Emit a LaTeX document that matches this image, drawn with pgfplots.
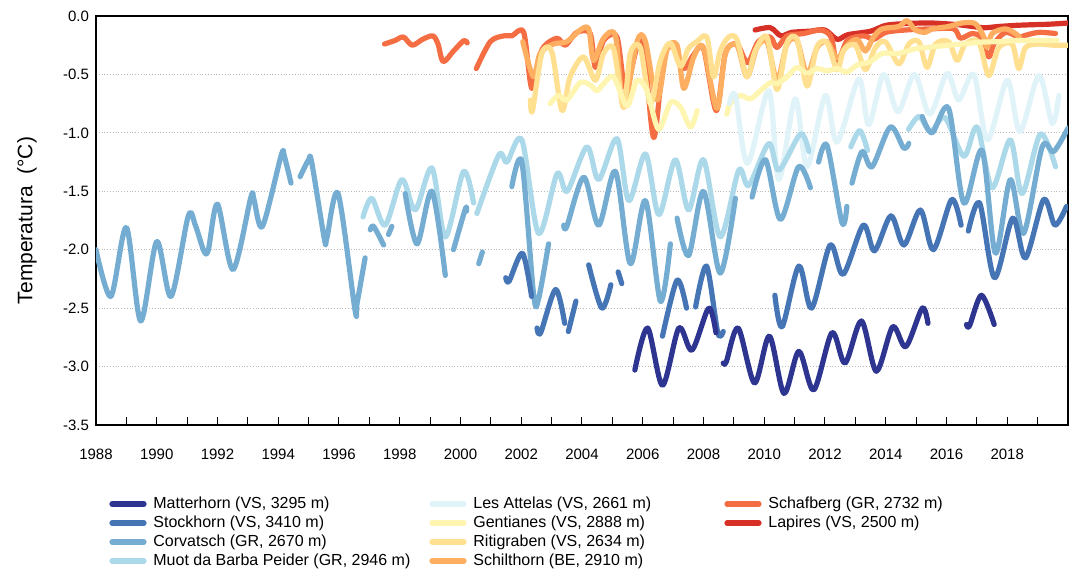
\documentclass[border=0pt]{standalone}
\usepackage{fontspec}
\setmainfont{Liberation Sans}
\usepackage{pgfplots}
\pgfplotsset{compat=1.18}
\definecolor{cMatt}{HTML}{2E3590}
\definecolor{cStock}{HTML}{4575B4}
\definecolor{cCorv}{HTML}{74ADD1}
\definecolor{cMuot}{HTML}{ABD9E9}
\definecolor{cAtt}{HTML}{E0F3F8}
\definecolor{cGent}{HTML}{FEF5B0}
\definecolor{cRiti}{HTML}{FEE090}
\definecolor{cSchil}{HTML}{FDAE61}
\definecolor{cSchaf}{HTML}{F46D43}
\definecolor{cLap}{HTML}{D73027}
\pgfplotsset{
  ser/.style={line width=2.6pt, smooth, tension=0.5, line cap=round, line join=round, no markers, forget plot},
}
\begin{document}
\begin{tikzpicture}
\useasboundingbox (-48pt,-81pt) rectangle (491pt,212.5pt);
\begin{axis}[
  at={(0,0)}, anchor=south west,
  scale only axis, width=486pt, height=204.5pt,
  xmin=1988, xmax=2020, ymin=-3.5, ymax=0,
  xtick={1988,1990,...,2018}, minor xtick={1989,1991,...,2019},
  xtick pos=bottom, ytick pos=left,
  tick align=inside, major tick length=4pt, minor tick length=4pt,
  tick style={black, line width=0.5pt},
  ytick={-3.5,-3,...,0}, ytick style={draw=none},
  ymajorgrids, grid style={densely dotted, gray!55, line width=0.5pt},
  axis line style={black, line width=0.6pt},
  /pgf/number format/assume math mode=true,
  xticklabel style={/pgf/number format/1000 sep={}, font=\fontsize{7.5}{9}\selectfont, yshift=-8.5pt},
  yticklabel style={/pgf/number format/fixed, /pgf/number format/fixed zerofill, /pgf/number format/precision=1, font=\fontsize{7.5}{9}\selectfont},
  ylabel={Temperatura\ \ (°C)},
  every axis y label/.style={at={(axis description cs:-0.071,0.5)}, rotate=90, anchor=center, font=\fontsize{10.5}{12}\selectfont},
]
% Lapires
\addplot[ser, color=cLap] coordinates {(2009.7,-0.12) (2010.2,-0.10) (2010.55,-0.17) (2010.9,-0.14) (2011.5,-0.13) (2012.0,-0.12) (2012.4,-0.20) (2012.75,-0.16) (2013.5,-0.13) (2014.0,-0.08) (2014.65,-0.065) (2015.5,-0.06) (2016.4,-0.075) (2017.2,-0.10) (2017.7,-0.09) (2018.3,-0.08) (2018.8,-0.075) (2019.4,-0.07) (2020,-0.06)};
% Schafberg
\addplot[ser, color=cSchaf] coordinates {(1997.5,-0.24) (1997.84,-0.21) (1998.12,-0.18) (1998.41,-0.25) (1998.75,-0.20) (1999.09,-0.17) (1999.26,-0.24) (1999.43,-0.39) (1999.77,-0.30) (2000.11,-0.21) (2000.22,-0.23)};
\addplot[ser, color=cSchaf] coordinates {(2000.52,-0.45) (2000.98,-0.22) (2001.42,-0.17) (2001.69,-0.17) (2002.08,-0.14) (2002.35,-0.62) (2002.68,-0.29) (2003.17,-0.19) (2003.45,-0.25) (2003.83,-0.14) (2004.27,-0.15) (2004.44,-0.44) (2004.71,-0.21) (2005.15,-0.18) (2005.42,-0.61) (2005.81,-0.27) (2006.03,-0.24) (2006.36,-1.04) (2006.69,-0.35) (2007.02,-0.27) (2007.35,-0.45) (2007.68,-0.33) (2008.0,-0.28) (2008.42,-0.81) (2008.72,-0.32) (2009.1,-0.24) (2009.45,-0.40) (2009.8,-0.22) (2010.2,-0.18) (2010.42,-0.27) (2010.75,-0.17) (2011.3,-0.15) (2011.85,-0.12) (2012.2,-0.18) (2012.4,-0.41) (2012.73,-0.21) (2013.28,-0.17) (2013.6,-0.20) (2014.0,-0.14) (2014.65,-0.12) (2015.5,-0.11) (2016.24,-0.11) (2016.46,-0.19) (2016.84,-0.15) (2017.1,-0.18) (2017.39,-0.35) (2017.56,-0.24) (2017.94,-0.14) (2018.38,-0.18) (2018.6,-0.165) (2019.04,-0.14) (2019.59,-0.15)};
% Schilthorn
\addplot[ser, color=cSchil] coordinates {(2002.05,-0.22) (2002.4,-0.52) (2002.62,-0.32) (2003.06,-0.24) (2003.5,-0.22) (2003.94,-0.12) (2004.22,-0.11) (2004.38,-0.38) (2004.71,-0.19) (2005.1,-0.17) (2005.37,-0.78) (2005.81,-0.22) (2006.08,-0.21) (2006.47,-0.72) (2006.8,-0.29) (2007.13,-0.25) (2007.35,-0.62) (2007.68,-0.35) (2008.0,-0.27) (2008.44,-0.79) (2008.72,-0.32) (2009.1,-0.25) (2009.43,-0.52) (2009.76,-0.27) (2010.09,-0.22) (2010.42,-0.55) (2010.75,-0.24) (2011.08,-0.21) (2011.41,-0.50) (2011.74,-0.27) (2012.07,-0.22) (2012.4,-0.36) (2012.73,-0.25) (2013.06,-0.20) (2013.33,-0.30) (2013.6,-0.18) (2013.88,-0.11) (2014.43,-0.09) (2014.7,-0.04) (2014.98,-0.12) (2015.3,-0.14) (2015.53,-0.11) (2016.07,-0.09) (2016.51,-0.06) (2016.95,-0.066) (2017.23,-0.18) (2017.34,-0.27) (2017.5,-0.15) (2017.94,-0.11) (2018.27,-0.15) (2018.4,-0.18)};
% Ritigraben
\addplot[ser, color=cRiti] coordinates {(2002.3,-0.72) (2002.37,-0.81) (2002.68,-0.32) (2003.01,-0.31) (2003.34,-0.81) (2003.61,-0.52) (2004.05,-0.35) (2004.44,-0.55) (2004.71,-0.32) (2005.04,-0.28) (2005.37,-0.78) (2005.59,-0.32) (2005.92,-0.27) (2006.25,-0.75) (2006.58,-0.38) (2006.91,-0.23) (2007.24,-0.43) (2007.5,-0.28) (2007.78,-0.22) (2008.11,-0.18) (2008.33,-0.52) (2008.55,-0.30) (2008.83,-0.18) (2009.1,-0.20) (2009.43,-0.52) (2009.7,-0.30) (2010.09,-0.18) (2010.42,-0.63) (2010.75,-0.23) (2011.08,-0.20) (2011.41,-0.60) (2011.74,-0.26) (2012.07,-0.23) (2012.4,-0.46) (2012.62,-0.29) (2013.0,-0.25) (2013.33,-0.46) (2013.66,-0.27) (2013.99,-0.22) (2014.43,-0.41) (2014.76,-0.24) (2015.09,-0.22) (2015.36,-0.44) (2015.64,-0.24) (2016.07,-0.22) (2016.35,-0.38) (2016.62,-0.24) (2017.06,-0.22) (2017.39,-0.51) (2017.72,-0.27) (2018.16,-0.24) (2018.38,-0.45) (2018.6,-0.27) (2019.04,-0.24) (2019.5,-0.25) (2020.0,-0.25)};
% Gentianes
\addplot[ser, color=cGent] coordinates {(2002.95,-0.75) (2003.23,-0.68) (2003.5,-0.72) (2003.94,-0.57) (2004.27,-0.59) (2004.49,-0.64) (2004.71,-0.58) (2005.04,-0.52) (2005.48,-0.77) (2005.81,-0.55) (2006.14,-0.64) (2006.52,-0.97) (2006.91,-0.74) (2007.24,-0.78) (2007.57,-0.95) (2007.79,-0.81)};
\addplot[ser, color=cGent] coordinates {(2008.77,-0.84) (2008.88,-0.75) (2009.21,-0.68) (2009.54,-0.71) (2009.87,-0.64) (2010.2,-0.57) (2010.42,-0.58) (2010.75,-0.52) (2011.08,-0.44) (2011.41,-0.49) (2011.74,-0.45) (2012.07,-0.47) (2012.4,-0.45) (2012.73,-0.48) (2013.06,-0.42) (2013.5,-0.39) (2013.88,-0.32) (2014.42,-0.32) (2014.98,-0.28) (2015.53,-0.265) (2016.07,-0.25) (2016.62,-0.237) (2017.17,-0.223) (2017.72,-0.22) (2018.27,-0.21) (2018.82,-0.21) (2019.64,-0.21)};
% Les Attelas
\addplot[ser, color=cAtt] coordinates {(2008.85,-0.75) (2009.05,-0.68) (2009.45,-1.26) (2010.15,-0.64) (2010.48,-1.40) (2011.02,-0.71) (2011.41,-1.29) (2012.01,-0.68) (2012.4,-1.08) (2013.11,-0.54) (2013.44,-0.93) (2013.93,-0.50) (2014.4,-0.82) (2014.95,-0.50) (2015.45,-0.84) (2016.02,-0.49) (2016.4,-0.72) (2016.9,-0.50) (2017.35,-1.06) (2018.0,-0.55) (2018.42,-0.99) (2019.04,-0.51) (2019.48,-0.92) (2019.7,-0.68)};
% Muot da Barba Peider
\addplot[ser, color=cMuot] coordinates {(1996.79,-1.72) (1997.08,-1.56) (1997.52,-1.79) (1998.07,-1.40) (1998.51,-1.66) (1999.06,-1.30) (1999.5,-1.89) (2000.1,-1.33) (2000.43,-1.60)};
\addplot[ser, color=cMuot] coordinates {(2000.54,-1.69) (2001.26,-1.19) (2001.53,-1.25) (2002.02,-1.06) (2002.57,-1.86) (2003.18,-1.35) (2003.51,-1.50) (2004.16,-1.12) (2004.55,-1.40) (2005.15,-1.05) (2005.54,-1.58) (2006.09,-1.18) (2006.53,-1.70) (2007.07,-1.23) (2007.51,-1.66) (2008.0,-1.23) (2008.55,-1.89) (2009.16,-1.32) (2009.49,-1.45) (2010.15,-1.09) (2010.48,-1.32) (2011.19,-1.01) (2011.47,-1.16)};
\addplot[ser, color=cMuot] coordinates {(2012.85,-1.12) (2013.15,-0.98) (2013.4,-1.15)};
\addplot[ser, color=cMuot] coordinates {(2014.75,-0.97) (2015.1,-0.86) (2015.47,-0.99) (2015.95,-0.87) (2016.57,-1.20) (2017.01,-0.95) (2017.5,-1.47) (2018.1,-1.06) (2018.49,-1.52) (2019.09,-1.01) (2019.59,-1.29)};
% Corvatsch
\addplot[ser, color=cCorv] coordinates {(1988.0,-2.0) (1988.49,-2.40) (1989.0,-1.81) (1989.47,-2.61) (1990.0,-1.93) (1990.47,-2.40) (1991.04,-1.71) (1991.27,-1.79) (1991.55,-2.01) (1991.7,-2.0) (1992.0,-1.61) (1992.51,-2.17) (1993.1,-1.55) (1993.2,-1.57) (1993.48,-1.80) (1994.1,-1.19) (1994.2,-1.2) (1994.42,-1.43)};
\addplot[ser, color=cCorv] coordinates {(1994.72,-1.375) (1995.0,-1.23) (1995.1,-1.25) (1995.52,-1.91) (1995.6,-1.90) (1995.97,-1.52) (1996.53,-2.52) (1996.6,-2.45) (1996.86,-2.07)};
\addplot[ser, color=cCorv] coordinates {(1997.03,-1.83) (1997.14,-1.80) (1997.47,-1.96)};
\addplot[ser, color=cCorv] coordinates {(1997.63,-1.87) (1997.74,-1.80)};
\addplot[ser, color=cCorv] coordinates {(1998.18,-1.52) (1998.57,-1.95) (1999.06,-1.50) (1999.5,-2.22)};
\addplot[ser, color=cCorv] coordinates {(1999.77,-2.0) (2000.16,-1.65) (2000.2,-1.67)};
\addplot[ser, color=cCorv] coordinates {(2000.6,-2.12) (2000.72,-2.02)};
\addplot[ser, color=cCorv] coordinates {(2001.69,-1.46) (2002.02,-1.25) (2002.41,-2.39) (2002.57,-2.42) (2002.9,-1.95)};
\addplot[ser, color=cCorv] coordinates {(2003.4,-1.79) (2003.5,-1.80) (2004.06,-1.38) (2004.55,-1.79) (2005.1,-1.33) (2005.59,-2.12) (2006.09,-1.58) (2006.58,-2.44) (2006.91,-1.95)};
\addplot[ser, color=cCorv] coordinates {(2007.13,-1.73) (2007.51,-2.05) (2008.0,-1.50) (2008.55,-2.20) (2009.05,-1.56)};
\addplot[ser, color=cCorv] coordinates {(2009.6,-1.55) (2010.04,-1.23) (2010.53,-1.74) (2011.13,-1.29) (2011.52,-1.47)};
\addplot[ser, color=cCorv] coordinates {(2011.79,-1.25) (2012.07,-1.11) (2012.56,-1.77) (2012.72,-1.63)};
\addplot[ser, color=cCorv] coordinates {(2012.89,-1.43) (2013.22,-1.16) (2013.55,-1.29) (2014.15,-0.95) (2014.59,-1.13) (2014.76,-1.09)};
\addplot[ser, color=cCorv] coordinates {(2015.2,-0.86) (2015.53,-1.0) (2016.07,-0.79) (2016.57,-1.60) (2017.17,-1.15) (2017.61,-2.03) (2018.1,-1.40) (2018.54,-1.86) (2019.15,-1.12) (2019.53,-1.16) (2020.0,-0.96)};
% Stockhorn
\addplot[ser, color=cStock] coordinates {(2001.49,-2.24) (2001.6,-2.27) (2002.04,-2.03) (2002.34,-2.40)};
\addplot[ser, color=cStock] coordinates {(2002.52,-2.67) (2002.64,-2.71) (2003.13,-2.34) (2003.43,-2.63)};
\addplot[ser, color=cStock] coordinates {(2003.55,-2.70) (2003.8,-2.44)};
\addplot[ser, color=cStock] coordinates {(2004.22,-2.13) (2004.65,-2.50) (2004.95,-2.30)};
\addplot[ser, color=cStock] coordinates {(2005.19,-2.19) (2005.31,-2.29)};
\addplot[ser, color=cStock] coordinates {(2006.65,-2.74) (2007.13,-2.26) (2007.44,-2.50)};
\addplot[ser, color=cStock] coordinates {(2007.74,-2.49) (2008.1,-2.14) (2008.47,-2.71) (2008.65,-2.70)};
\addplot[ser, color=cStock] coordinates {(2010.35,-2.39) (2010.59,-2.66) (2011.14,-2.14) (2011.56,-2.50) (2012.17,-1.96) (2012.6,-2.21) (2013.26,-1.79) (2013.63,-2.01) (2014.17,-1.71) (2014.6,-1.96) (2015.14,-1.66) (2015.57,-2.0) (2016.17,-1.57) (2016.48,-1.79)};
\addplot[ser, color=cStock] coordinates {(2016.72,-1.84) (2017.09,-1.60) (2017.58,-2.24) (2018.18,-1.73) (2018.6,-2.07) (2019.2,-1.57) (2019.57,-1.79) (2019.95,-1.63)};
% Matterhorn
\addplot[ser, color=cMatt] coordinates {(2005.74,-3.03) (2006.16,-2.67) (2006.65,-3.16) (2007.19,-2.67) (2007.62,-2.86) (2008.17,-2.50) (2008.41,-2.71)};
\addplot[ser, color=cMatt] coordinates {(2008.65,-2.97) (2008.75,-2.96) (2009.14,-2.67) (2009.68,-3.14) (2010.17,-2.74) (2010.65,-3.23) (2011.14,-2.87) (2011.63,-3.2) (2012.23,-2.71) (2012.66,-2.97) (2013.2,-2.61) (2013.69,-3.04) (2014.23,-2.66) (2014.66,-2.83) (2015.2,-2.5) (2015.39,-2.63)};
\addplot[ser, color=cMatt] coordinates {(2016.66,-2.64) (2016.76,-2.65) (2017.15,-2.39) (2017.57,-2.64)};
\end{axis}
% legend
\begin{scope}[font=\fontsize{8}{10}\selectfont, every node/.style={anchor=west, inner sep=0pt}]
\foreach \c/\t/\x/\y in {
  cMatt/{Matterhorn (VS, 3295 m)}/7/-39.5,
  cStock/{Stockhorn (VS, 3410 m)}/7/-49,
  cCorv/{Corvatsch (GR, 2670 m)}/7/-58.5,
  cMuot/{Muot da Barba Peider (GR, 2946 m)}/7/-68,
  cAtt/{Les Attelas (VS, 2661 m)}/167/-39.5,
  cGent/{Gentianes (VS, 2888 m)}/167/-49,
  cRiti/{Ritigraben (VS, 2634 m)}/167/-58.5,
  cSchil/{Schilthorn (BE, 2910 m)}/167/-68,
  cSchaf/{Schafberg (GR, 2732 m)}/314.5/-39.5,
  cLap/{Lapires (VS, 2500 m)}/314.5/-49}{
  \draw[color=\c, line width=2.6pt, line cap=round] (\x pt+1pt,\y pt) -- (\x pt+17pt,\y pt);
  \node at (\x pt+21.5pt,\y pt) {\t};
}
\end{scope}
\end{tikzpicture}
\end{document}
